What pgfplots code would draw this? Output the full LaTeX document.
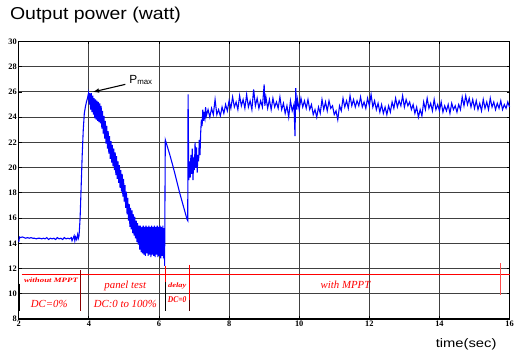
\documentclass[border=0pt]{standalone}
\usepackage{pgfplots}
\pgfplotsset{compat=1.18}
\usepackage{fontspec}
\setmainfont{Liberation Serif}
\newfontfamily\arialf{Liberation Sans}
\begin{document}
\begin{tikzpicture}
\begin{axis}[
  scale only axis, width=497bp, height=281bp,
  at={(19bp,35bp)}, anchor=south west,
  xmin=2, xmax=16, ymin=8, ymax=30,
  xtick={2,4,...,16}, ytick={8,10,...,30},
  grid=major, grid style={black!75, line width=0.9bp},
  axis line style={black, line width=1.3bp},
  tick style={black, line width=0.8bp},
  major tick length=3bp,
  /pgf/number format/assume math mode=true,
  ticklabel style={font=\fontsize{8.5}{8.5}\selectfont\bfseries},
  xticklabel style={yshift=1.5bp},
  yticklabel style={xshift=1.5bp},
  clip=false,
]
\addplot[blue, line width=1.1bp] coordinates {
(2.00,14.1)(2.02,14.5)(2.05,14.45)(2.10,14.5)(2.15,14.45)(2.20,14.4)(2.25,14.45)(2.30,14.4)(2.35,14.45)(2.40,14.4)
(2.45,14.4)(2.50,14.35)(2.55,14.4)(2.60,14.4)(2.65,14.35)(2.70,14.4)(2.75,14.35)(2.80,14.45)(2.85,14.3)(2.90,14.4)
(2.95,14.35)(3.00,14.4)(3.05,14.3)(3.10,14.45)(3.15,14.35)(3.20,14.4)(3.25,14.3)(3.30,14.45)(3.35,14.35)(3.40,14.4)
(3.45,14.35)(3.50,14.45)(3.52,14.2)(3.55,14.4)(3.58,14.6)(3.60,14.2)(3.62,14.5)(3.65,14.3)(3.68,14.7)(3.70,14.4)
(3.72,14.6)(3.75,16)(3.78,18.5)(3.81,21)(3.84,23)(3.87,24.3)(3.90,24.8)(3.93,25.2)(3.96,25.5)(3.99,25.9)
(4.01,25.0)(4.03,25.9)(4.05,24.6)(4.07,25.9)(4.09,24.4)(4.11,25.7)(4.13,24.2)(4.15,25.5)(4.17,23.9)(4.19,25.4)
(4.21,23.8)(4.23,25.3)(4.25,23.7)(4.27,25.2)(4.29,23.6)(4.31,25.1)(4.33,23.5)(4.35,24.9)(4.37,23.1)(4.39,24.5)
(4.41,22.7)(4.43,24.1)(4.45,22.3)(4.47,23.7)(4.49,21.9)(4.51,23.3)(4.53,21.5)(4.55,22.9)(4.57,21.1)(4.59,22.5)
(4.61,20.7)(4.63,22.1)(4.65,20.4)(4.67,21.8)(4.69,20.1)(4.71,21.5)(4.73,19.8)(4.75,21.2)(4.77,19.4)(4.79,20.9)
(4.81,19.1)(4.83,20.5)(4.85,18.8)(4.87,20.2)(4.89,18.4)(4.91,19.8)(4.93,18.1)(4.95,19.5)(4.97,17.7)(4.99,19.1)
(5.01,17.3)(5.03,18.6)(5.05,16.8)(5.07,18.1)(5.09,16.3)(5.11,17.6)(5.13,15.8)(5.15,17.1)(5.17,15.3)(5.19,16.8)
(5.21,15.1)(5.23,16.6)(5.25,14.8)(5.27,16.3)(5.29,14.6)(5.31,16.1)(5.33,14.4)(5.35,15.8)(5.37,14.1)(5.39,15.6)
(5.41,13.9)(5.43,15.4)(5.45,13.5)(5.47,15.4)(5.49,13.3)(5.51,15.3)(5.53,13.2)(5.55,15.4)(5.57,13.1)(5.59,15.3)
(5.61,13.0)(5.63,15.4)(5.65,13.2)(5.67,15.3)(5.69,13.0)(5.71,15.4)(5.73,13.1)(5.75,15.3)(5.77,12.9)(5.79,15.4)
(5.81,13.1)(5.83,15.3)(5.85,13.0)(5.87,15.4)(5.89,12.9)(5.91,15.3)(5.93,13.1)(5.95,15.4)(5.97,12.9)(5.99,15.3)
(6.01,13.0)(6.03,15.4)(6.05,12.8)(6.07,15.3)(6.09,13.0)(6.11,15.4)(6.13,12.8)(6.15,15.2)(6.16,12.2)(6.18,22.2)
(6.30,21.1)(6.40,20.1)(6.50,19.0)(6.60,17.9)(6.70,16.9)(6.80,15.9)(6.82,15.8)(6.83,25.8)(6.85,19.0)
(6.87,20.5)(6.89,19.2)(6.91,21.0)(6.93,19.5)(6.95,21.5)(6.97,19.0)(6.99,20.8)(7.01,19.8)(7.03,22.0)(7.05,20.0)
(7.07,21.6)(7.09,19.6)(7.11,21.0)(7.13,20.5)(7.15,22.2)(7.17,21.0)(7.19,22.8)(7.21,23.8)(7.23,23.3)(7.25,24.6)
(7.27,23.7)(7.29,24.2)(7.31,23.9)(7.33,24.8)(7.35,24.1)(7.40,24.6)(7.45,24.0)(7.50,24.7)(7.55,24.2)(7.60,25.4)
(7.65,24.2)(7.70,24.6)(7.75,24.1)(7.80,24.8)(7.85,24.3)(7.90,25.0)(7.95,24.5)(8.00,25.3)(8.05,24.7)(8.10,25.6)
(8.15,24.8)(8.20,25.2)(8.25,24.6)(8.30,25.7)(8.35,24.9)(8.40,25.4)(8.45,24.7)(8.50,25.8)(8.55,24.8)(8.60,25.3)
(8.65,24.6)(8.70,26.2)(8.75,24.9)(8.80,25.5)(8.85,24.7)(8.90,25.3)(8.95,24.8)(9.00,26.6)(9.02,24.9)(9.05,25.6)
(9.10,24.7)(9.15,25.4)(9.20,24.6)(9.25,25.5)(9.30,24.8)(9.35,25.2)(9.40,24.7)(9.45,25.6)(9.50,24.6)(9.55,25.1)
(9.60,24.3)(9.65,24.9)(9.70,24.0)(9.75,25.3)(9.80,24.5)(9.85,25.0)(9.88,22.5)(9.90,26.3)(9.93,24.6)(9.95,25.4)
(10.00,24.6)(10.05,25.5)(10.10,24.8)(10.15,25.3)(10.20,24.7)(10.25,25.4)(10.30,24.6)(10.35,25.0)(10.40,24.2)(10.45,24.6)
(10.50,24.0)(10.55,24.8)(10.60,24.3)(10.65,25.4)(10.70,24.6)(10.75,25.2)(10.80,24.5)(10.85,25.3)(10.90,24.7)(10.95,24.9)
(11.00,24.2)(11.05,24.5)(11.10,23.8)(11.15,24.9)(11.20,24.5)(11.25,25.5)(11.30,24.8)(11.35,25.3)(11.40,24.7)(11.45,25.7)
(11.50,24.9)(11.55,25.4)(11.60,24.8)(11.65,25.3)(11.70,24.9)(11.75,25.6)(11.80,24.8)(11.85,25.2)(11.90,24.7)(11.95,25.5)
(12.00,24.9)(12.05,25.8)(12.10,24.8)(12.15,25.3)(12.20,24.6)(12.25,25.1)(12.30,24.4)(12.35,25.0)(12.40,24.3)(12.45,24.8)
(12.50,24.2)(12.55,24.9)(12.60,24.4)(12.65,25.2)(12.70,24.7)(12.75,25.5)(12.80,24.8)(12.85,25.3)(12.90,24.9)(12.95,25.7)
(13.00,24.8)(13.05,25.4)(13.10,24.9)(13.15,25.2)(13.20,24.6)(13.25,25.0)(13.30,24.3)(13.35,24.8)(13.40,24.0)(13.45,24.6)
(13.50,24.1)(13.55,25.2)(13.60,24.6)(13.65,25.5)(13.70,24.7)(13.75,25.1)(13.80,24.5)(13.85,25.4)(13.90,24.6)(13.95,25.0)
(14.00,24.5)(14.05,25.2)(14.10,24.4)(14.15,24.9)(14.20,24.5)(14.25,25.0)(14.30,24.3)(14.35,25.1)(14.40,24.6)(14.45,24.9)
(14.50,24.4)(14.55,25.0)(14.60,24.6)(14.65,25.6)(14.70,24.9)(14.75,25.7)(14.80,25.0)(14.85,25.5)(14.90,24.8)(14.95,25.4)
(15.00,24.7)(15.05,25.3)(15.10,24.6)(15.15,25.1)(15.20,24.5)(15.25,25.4)(15.30,24.7)(15.35,25.2)(15.40,24.6)(15.45,25.5)
(15.50,24.8)(15.55,25.2)(15.60,24.6)(15.65,25.1)(15.70,24.7)(15.75,25.3)(15.80,24.6)(15.85,25.0)(15.90,24.7)(15.95,25.2)
(16.00,24.8)
};
% red annotation lines
\addplot[red, line width=0.9bp] coordinates {(2.08,11.56)(16,11.56)};
\addplot[red!55!black, line width=0.9bp] coordinates {(3.75,11.9)(3.75,8.6)};
\addplot[red, line width=0.9bp] coordinates {(6.17,12.2)(6.17,10.9)};
\addplot[black, line width=0.9bp] coordinates {(6.17,10.9)(6.17,8.6)};
\addplot[red, line width=0.9bp] coordinates {(6.87,12.3)(6.87,9.5)};
\addplot[black!70!red, line width=0.9bp] coordinates {(6.87,9.5)(6.87,8.6)};
\addplot[red!70, line width=0.9bp] coordinates {(15.75,12.4)(15.75,9.9)};
\addplot[black, line width=1.6bp] coordinates {(2.0,10.8)(2.0,8.6)};
% red texts
\node[red, font=\fontsize{9}{9}\selectfont\itshape\bfseries, yscale=0.75] at (axis cs:2.92,11.1) {without MPPT};
\node[red, font=\fontsize{11}{11}\selectfont\itshape] at (axis cs:2.87,9.2) {DC=0\%};
\node[red, font=\fontsize{11}{11}\selectfont\itshape] at (axis cs:5.04,10.6) {panel test};
\node[red, font=\fontsize{11}{11}\selectfont\itshape] at (axis cs:5.04,9.2) {DC:0 to 100\%};
\node[red, font=\fontsize{8.5}{8.5}\selectfont\itshape\bfseries, yscale=0.8] at (axis cs:6.52,10.65) {delay};
\node[red, font=\fontsize{9}{9}\selectfont\itshape\bfseries, xscale=0.85] at (axis cs:6.52,9.55) {DC=0};
\node[red, font=\fontsize{11}{11}\selectfont\itshape] at (axis cs:11.32,10.7) {with MPPT};
% Pmax
\draw[-{latex}, black, line width=1.1bp] (axis cs:5.04,26.6) -- (axis cs:4.12,26.0);
\node[anchor=west, inner sep=0pt, font=\arialf\fontsize{12}{12}\selectfont] at (axis cs:5.15,26.95) {P\textsubscript{\fontsize{8}{8}\selectfont max}};
\end{axis}
\node[anchor=west, inner sep=0pt, font=\arialf\fontsize{17.5}{17.5}\selectfont, xscale=1.13] at (10bp,343bp) {Output power (watt)};
\node[inner sep=0pt, font=\arialf\fontsize{12.5}{12.5}\selectfont, xscale=1.2] at (472bp,9bp) {time(sec)};
\useasboundingbox (0,0) rectangle (517bp,358bp);
\end{tikzpicture}
\end{document}
